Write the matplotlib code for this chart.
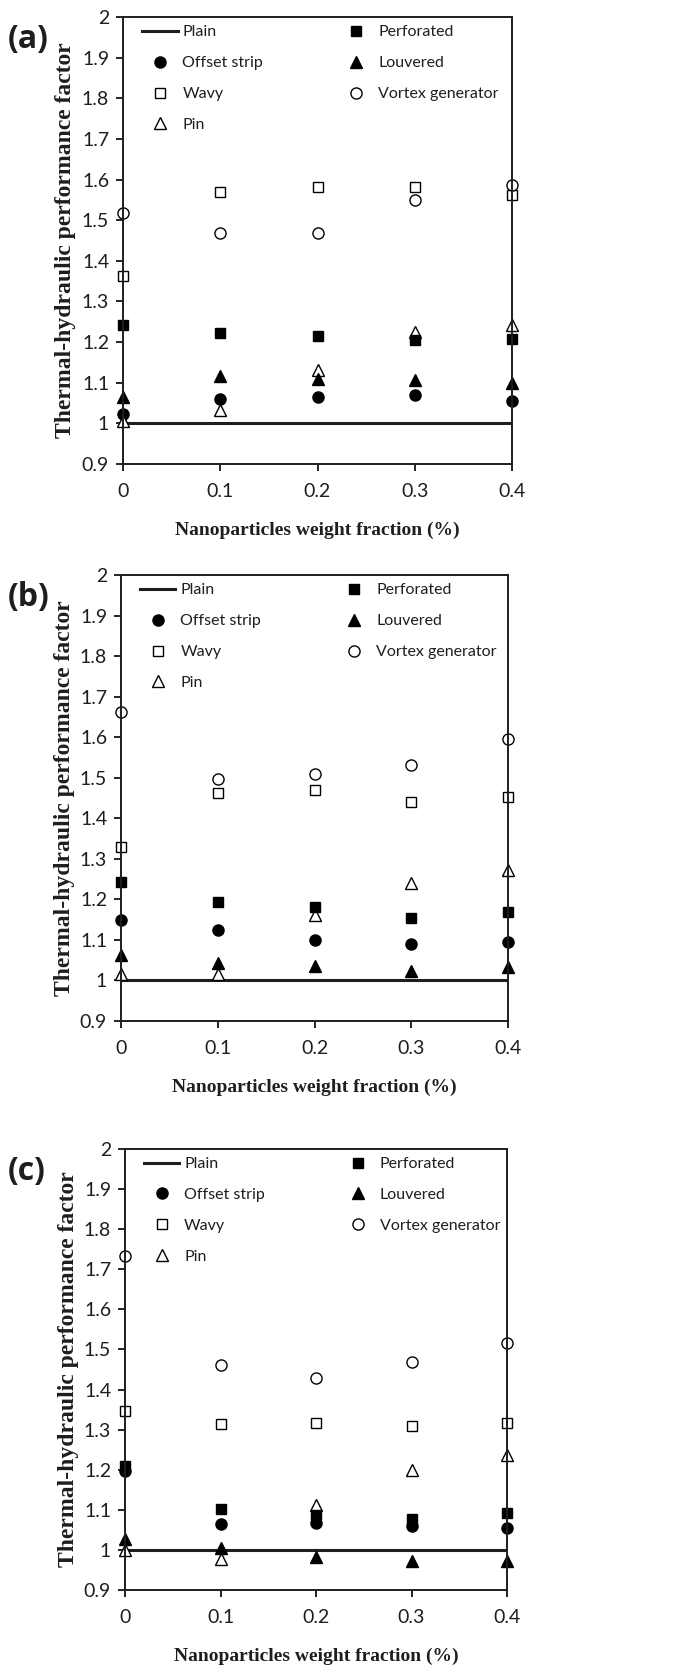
import numpy as np
import matplotlib
matplotlib.use("Agg")
import matplotlib.pyplot as plt
from matplotlib.ticker import FuncFormatter

# weight fraction (%)
wf = [0.0, 0.1, 0.2, 0.3, 0.4]

# panel (a)
a_offset = [1.022, 1.061, 1.066, 1.071, 1.055]
a_wavy = [1.362, 1.569, 1.582, 1.581, 1.562]
a_pin = [1.006, 1.034, 1.132, 1.224, 1.242]
a_perf = [1.242, 1.222, 1.215, 1.205, 1.207]
a_louv = [1.065, 1.117, 1.110, 1.106, 1.099]
a_vortex = [1.518, 1.469, 1.469, 1.549, 1.586]

# panel (b)
b_offset = [1.149, 1.125, 1.100, 1.089, 1.094]
b_wavy = [1.329, 1.462, 1.470, 1.440, 1.452]
b_pin = [1.016, 1.016, 1.161, 1.240, 1.273]
b_perf = [1.242, 1.194, 1.180, 1.153, 1.170]
b_louv = [1.064, 1.042, 1.036, 1.023, 1.034]
b_vortex = [1.661, 1.498, 1.509, 1.532, 1.595]

# panel (c)
c_offset = [1.197, 1.064, 1.068, 1.060, 1.054]
c_wavy = [1.347, 1.313, 1.317, 1.310, 1.317]
c_pin = [1.000, 0.978, 1.112, 1.199, 1.236]
c_perf = [1.210, 1.103, 1.087, 1.076, 1.091]
c_louv = [1.027, 1.005, 0.982, 0.972, 0.973]
c_vortex = [1.733, 1.462, 1.428, 1.469, 1.515]

plain = 1.0
xticks = [0, 0.1, 0.2, 0.3, 0.4]
yticks = [0.9, 1.0, 1.1, 1.2, 1.3, 1.4, 1.5, 1.6, 1.7, 1.8, 1.9, 2.0]

TICK_FONT = "Lato"
LABEL_FONT = "Liberation Serif"
INK = "#1e1e1e"


def draw_panel(fig, rect, tag, offset, wavy, pin, perf, louv, vortex):
    ax = fig.add_axes(rect)
    ax.plot([0, 0.4], [plain, plain], "-", color=INK, lw=2.2, label="Plain")
    ax.plot(wf, offset, "o", color="black", ms=8, ls="none", label="Offset strip", clip_on=False)
    ax.plot(wf, wavy, "s", mfc="white", mec="black", mew=1.0, ms=7, ls="none", label="Wavy", clip_on=False)
    ax.plot(wf, pin, "^", mfc="white", mec="black", mew=1.0, ms=8, ls="none", label="Pin", clip_on=False)
    ax.plot(wf, perf, "s", color="black", ms=7, ls="none", label="Perforated", clip_on=False)
    ax.plot(wf, louv, "^", color="black", ms=8, ls="none", label="Louvered", clip_on=False)
    ax.plot(wf, vortex, "o", mfc="white", mec="black", mew=1.0, ms=8, ls="none", label="Vortex generator", clip_on=False)

    ax.set_xlim(0, 0.4)
    ax.set_ylim(0.9, 2.0)
    ax.set_xticks(xticks)
    ax.set_yticks(yticks)
    ax.xaxis.set_major_formatter(FuncFormatter(lambda v, p: f"{v:g}"))
    ax.yaxis.set_major_formatter(FuncFormatter(lambda v, p: f"{v:g}"))
    for s in ax.spines.values():
        s.set_linewidth(1.4)
        s.set_color(INK)
    ax.tick_params(axis="x", direction="out", length=5, width=1.2, pad=9, labelsize=14)
    ax.tick_params(axis="y", direction="out", length=5, width=1.2, pad=5, labelsize=14)
    for lab in ax.get_xticklabels() + ax.get_yticklabels():
        lab.set_fontfamily(TICK_FONT)
        lab.set_color(INK)

    ax.set_xlabel("Nanoparticles weight fraction (%)", family=LABEL_FONT,
                  fontweight="bold", fontsize=14, labelpad=15, color=INK)
    ax.set_ylabel("Thermal-hydraulic performance factor", family=LABEL_FONT,
                  fontweight="bold", fontsize=17, color=INK)
    ax.yaxis.set_label_coords(-0.12, 0.5)

    leg = ax.legend(ncol=2, loc="upper left", bbox_to_anchor=(0.05, 0.982), frameon=False,
                    prop={"family": TICK_FONT, "size": 11.5}, handlelength=2.2,
                    columnspacing=4.7, labelspacing=1.05, handletextpad=0.3,
                    borderpad=0, borderaxespad=0)
    for t in leg.get_texts():
        t.set_color(INK)

    fig.text(0.012, rect[1] + rect[3] - 6 / 1666, tag, family="Open Sans", fontweight="bold",
             fontsize=23, va="top", ha="left", color=INK)
    return ax


fig = plt.figure(figsize=(6.77, 16.66), dpi=100)

draw_panel(fig, [123 / 677, 1 - 464 / 1666, 389 / 677, 447 / 1666], "(a)",
           a_offset, a_wavy, a_pin, a_perf, a_louv, a_vortex)
draw_panel(fig, [121 / 677, 1 - 1021 / 1666, 387 / 677, 446 / 1666], "(b)",
           b_offset, b_wavy, b_pin, b_perf, b_louv, b_vortex)
draw_panel(fig, [125 / 677, 1 - 1590 / 1666, 382 / 677, 441 / 1666], "(c)",
           c_offset, c_wavy, c_pin, c_perf, c_louv, c_vortex)

fig.savefig("out.png", dpi=100)
